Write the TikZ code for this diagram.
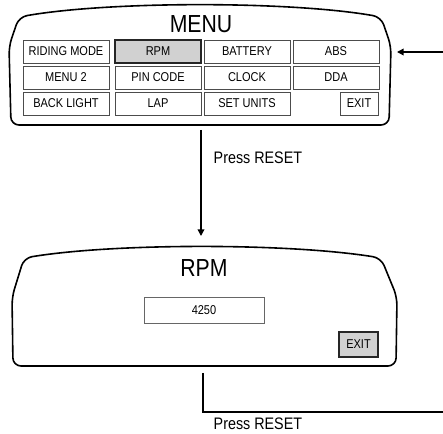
\documentclass[tikz,border=0pt]{standalone}
\usepackage{fontspec}
\setmainfont{Liberation Sans}
\newfontfamily\condfont[FakeStretch=0.86]{Liberation Sans}
\usetikzlibrary{positioning, arrows.meta}

\begin{document}
\begin{tikzpicture}[
        x=0.75pt, y=-0.75pt,
        screen/.style={draw=black, line width=1.2pt, rounded corners=6pt},
        btn/.style={draw=black!70, line width=0.6pt, minimum width=64.5pt,
                    minimum height=17.25pt, inner sep=0pt,
                    font=\condfont\fontsize{9.6}{9.6}\selectfont},
        sel/.style={btn, fill=black!18, draw=black!85, line width=1.3pt},
        title/.style={font=\condfont\fontsize{18.5}{18.5}\selectfont},
        lbl/.style={font=\condfont\fontsize{12.5}{12.5}\selectfont, anchor=west},
        arr/.style={-{Triangle[length=5pt, width=5pt]}, line width=1.1pt},
        wire/.style={line width=1.1pt}
    ]
    \useasboundingbox (0,0) rectangle (443,434);
    % MENU screen
    \draw[screen] (19,17) .. controls (110,1) and (290,1) .. (381,17)
        -- (391,46) -- (389,125) -- (11,125) -- (9,46) -- cycle;
    \node[title] (menu) at (201,24) {MENU};
    % Menu buttons
    \foreach \n/\x/\y/\t in {riding/66/51.5/RIDING MODE, battery/247/51.5/BATTERY,
            abs/336/51.5/ABS, menu2/66/77.5/MENU 2, pin/158/77.5/PIN CODE,
            clock/247/77.5/CLOCK, dda/336/77.5/DDA, light/66/103.5/BACK LIGHT,
            lap/158/103.5/LAP, units/247/103.5/SET UNITS}
        \node[btn] (\n) at (\x,\y) {\t};
    \node[sel] (rpm) at (158,51.5) {RPM};
    \node[btn, minimum width=28.5pt] (exit) at (359,103.5) {EXIT};
    % RPM screen
    \draw[screen] (24,258) .. controls (115,243) and (288,243) .. (381,258)
        -- (397,297) -- (396,366) -- (13,366) -- (12,297) -- cycle;
    \node[title] (rpmtitle) at (204,268) {RPM};
    \node[btn, draw=black!60, minimum width=90pt, minimum height=19.5pt] (value)
        at (204,310) {4250};
    \node[sel, minimum width=29pt, minimum height=18.75pt] (rpmexit)
        at (358.5,344.5) {EXIT};
    % Connectors
    \coordinate (in) at (443,52);
    \coordinate (menuin) at (397,52);
    \draw[arr] (in) -- (menuin);
    \coordinate (menuout) at (201,130);
    \coordinate (rpmin) at (201,236);
    \draw[arr] (menuout) -- (rpmin);
    \node[lbl] (reset1) at (209,158) {Press RESET};
    \coordinate (rpmout) at (203,373);
    \coordinate (out) at (443,412);
    \draw[wire] (rpmout) |- (out);
    \node[lbl] (reset2) at (209,424) {Press RESET};
\end{tikzpicture}
\end{document}
